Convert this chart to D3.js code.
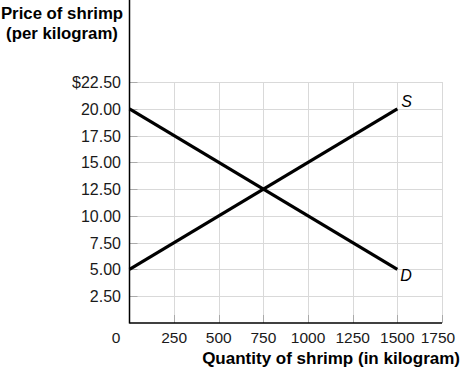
<!DOCTYPE html>
<html>
<head>
<meta charset="utf-8">
<script src="https://cdn.jsdelivr.net/npm/d3@7"></script>
<style>
  body { margin: 0; background: #fff; }
  text { font-family: "Liberation Sans", Arial, sans-serif; }
</style>
</head>
<body>
<div id="chart"></div>
<script>
// chart data
const priceTicks = [2.5, 5, 7.5, 10, 12.5, 15, 17.5, 20, 22.5];
const quantityTicks = [250, 500, 750, 1000, 1250, 1500, 1750];
const supply = [{q: 0, p: 5}, {q: 1500, p: 20}];
const demand = [{q: 0, p: 20}, {q: 1500, p: 5}];

const width = 462;
const height = 371;

// plot area
const plotLeft = 129.5;
const plotRight = 442;
const plotBottom = 323;
const plotTop = 82;

const svg = d3.select('#chart')
  .append('svg')
  .attr('width', width)
  .attr('height', height);

const x = d3.scaleLinear().domain([0, 1750]).range([plotLeft, plotRight]);
const y = d3.scaleLinear().domain([0, 22.5]).range([plotBottom, plotTop]);

// grid lines
svg.selectAll('.hgrid')
  .data(priceTicks)
  .enter().append('line')
  .attr('x1', plotLeft).attr('x2', plotRight)
  .attr('y1', (d) => Math.round(y(d)) + 0.5)
  .attr('y2', (d) => Math.round(y(d)) + 0.5)
  .attr('stroke', '#d9d9d9');

svg.selectAll('.vgrid')
  .data(quantityTicks)
  .enter().append('line')
  .attr('y1', plotTop).attr('y2', plotBottom)
  .attr('x1', (d) => Math.round(x(d)) + 0.5)
  .attr('x2', (d) => Math.round(x(d)) + 0.5)
  .attr('stroke', '#d9d9d9');

// short ticks inside the axes
svg.selectAll('.ytick')
  .data(priceTicks)
  .enter().append('line')
  .attr('x1', plotLeft).attr('x2', plotLeft + 8)
  .attr('y1', (d) => Math.round(y(d)) + 0.5)
  .attr('y2', (d) => Math.round(y(d)) + 0.5)
  .attr('stroke', '#aaa');

svg.selectAll('.xtick')
  .data(quantityTicks)
  .enter().append('line')
  .attr('y1', plotBottom).attr('y2', plotBottom - 8)
  .attr('x1', (d) => Math.round(x(d)) + 0.5)
  .attr('x2', (d) => Math.round(x(d)) + 0.5)
  .attr('stroke', '#aaa');

// axes lines
svg.append('line')
  .attr('x1', plotLeft).attr('x2', plotLeft)
  .attr('y1', 0).attr('y2', plotBottom + 0.5)
  .attr('stroke', '#000').attr('stroke-width', 1.5);

svg.append('line')
  .attr('x1', plotLeft).attr('x2', plotRight)
  .attr('y1', plotBottom).attr('y2', plotBottom)
  .attr('stroke', '#000').attr('stroke-width', 1.5);

// tick labels
svg.selectAll('.ylabel')
  .data(priceTicks)
  .enter().append('text')
  .attr('x', 121)
  .attr('y', (d) => y(d) + 6)
  .attr('text-anchor', 'end')
  .attr('font-size', 16)
  .attr('fill', '#1a1a1a')
  .text((d) => (d === 22.5 ? '$' : '') + d.toFixed(2));

svg.selectAll('.xlabel')
  .data(quantityTicks)
  .enter().append('text')
  .attr('x', (d) => x(d) - (d === 1750 ? 4 : 0))
  .attr('y', 343)
  .attr('text-anchor', 'middle')
  .attr('font-size', 15.5)
  .attr('fill', '#1a1a1a')
  .text((d) => d);

svg.append('text')
  .attr('x', 116)
  .attr('y', 343)
  .attr('text-anchor', 'middle')
  .attr('font-size', 15.5)
  .attr('fill', '#1a1a1a')
  .text('0');

// curves
const line = d3.line()
  .x((d) => x(d.q))
  .y((d) => y(d.p));

[supply, demand].forEach((s) => {
  svg.append('path')
    .datum(s)
    .attr('d', line)
    .attr('fill', 'none')
    .attr('stroke', '#000')
    .attr('stroke-width', 3.2);
});

svg.append('text')
  .attr('x', x(supply[1].q) + 4)
  .attr('y', y(supply[1].p) - 2)
  .attr('font-size', 16)
  .attr('font-style', 'italic')
  .text('S');

svg.append('text')
  .attr('x', x(demand[1].q) + 3)
  .attr('y', y(demand[1].p) + 12)
  .attr('font-size', 16)
  .attr('font-style', 'italic')
  .text('D');

// axis titles
svg.append('text')
  .attr('x', 62)
  .attr('y', 19)
  .attr('text-anchor', 'middle')
  .attr('font-size', 16.8)
  .attr('font-weight', 'bold')
  .text('Price of shrimp');

svg.append('text')
  .attr('x', 62)
  .attr('y', 39)
  .attr('text-anchor', 'middle')
  .attr('font-size', 16.8)
  .attr('font-weight', 'bold')
  .text('(per kilogram)');

svg.append('text')
  .attr('x', 460)
  .attr('y', 364)
  .attr('text-anchor', 'end')
  .attr('font-size', 17)
  .attr('font-weight', 'bold')
  .text('Quantity of shrimp (in kilogram)');
</script>
</body>
</html>
